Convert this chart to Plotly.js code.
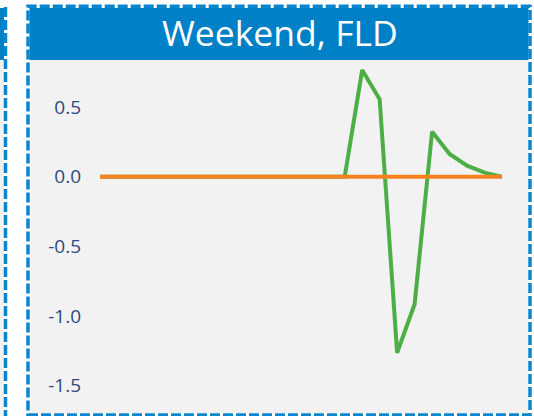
<!DOCTYPE html>
<html>
<head>
<meta charset="utf-8">
<script src="https://cdn.plot.ly/plotly-3.0.1.min.js"></script>
<style>html,body{margin:0;padding:0;background:#fff;}#chart{width:534px;height:416px;}</style>
</head>
<body>
<div id="chart"></div>
<script>
// ---- data ----
const hours = [0,1,2,3,4,5,6,7,8,9,10,11,12,13,14,15,16,17,18,19,20,21,22,23];
const greenSeries = [0,0,0,0,0,0,0,0,0,0,0,0,0,0,0,0.765,0.555,-1.263,-0.915,0.323,0.163,0.079,0.029,0];
const orangeSeries = [0,0,0,0,0,0,0,0,0,0,0,0,0,0,0,0,0,0,0,0,0,0,0,0];
const tickValues = [0.5, 0.0, -0.5, -1.0, -1.5];
const tickLabels = ['0.5', '0.0', '-0.5', '-1.0', '-1.5'];
const panelTitle = 'Weekend, FLD';

// ---- layout geometry (pixels) ----
const W = 534, H = 416;
const L = 100, R = 502, T = 60, B = 413;
const px = v => (v - L) / (R - L);
const py = v => (B - v) / (B - T);

const blue = '#0080C6';
const borderBlue = '#0A86CF';
const gray = '#F2F2F2';

const shapes = [
  // neighbour panel (left edge)
  {type:'rect', xref:'paper', yref:'paper', x0:px(-10), x1:px(4), y0:py(60), y1:py(8), fillcolor:blue, line:{width:0}, layer:'below'},
  {type:'rect', xref:'paper', yref:'paper', x0:px(-10), x1:px(4), y0:py(420), y1:py(60), fillcolor:gray, line:{width:0}, layer:'below'},
  {type:'line', xref:'paper', yref:'paper', x0:px(5.5), x1:px(5.5), y0:py(420), y1:py(5), line:{color:borderBlue, width:3.5, dash:'10px,3px'}, layer:'below'},
  // main panel
  {type:'rect', xref:'paper', yref:'paper', x0:px(29.5), x1:px(528.5), y0:py(60), y1:py(8), fillcolor:blue, line:{width:0}, layer:'below'},
  {type:'rect', xref:'paper', yref:'paper', x0:px(30.5), x1:px(528), y0:py(413), y1:py(60), fillcolor:gray, line:{width:0}, layer:'below'},
  {type:'rect', xref:'paper', yref:'paper', x0:px(28), x1:px(530), y0:py(415), y1:py(6.3), fillcolor:'rgba(0,0,0,0)', line:{color:borderBlue, width:3.5, dash:'10px,3px'}, layer:'below'}
];

const traces = [
  {x: hours, y: greenSeries, type:'scatter', mode:'lines', line:{color:'#4CAF45', width:4}, hoverinfo:'skip'},
  {x: hours, y: orangeSeries, type:'scatter', mode:'lines', line:{color:'#F5821F', width:4}, hoverinfo:'skip'}
];

// y scale: 0 at 176.7 px, 0.5 per 69.7 px
const zeroPx = 176.7, unitPx = 139.4;

const layout = {
  width: W, height: H,
  margin: {l: L, r: W - R, t: T, b: H - B, pad: 0},
  paper_bgcolor: '#FFFFFF',
  plot_bgcolor: 'rgba(0,0,0,0)',
  showlegend: false,
  xaxis: {range:[0,23], visible:false, fixedrange:true},
  yaxis: {
    range: [(zeroPx - B) / unitPx, (zeroPx - T) / unitPx],
    tickvals: tickValues, ticktext: tickLabels,
    showgrid:false, zeroline:false, showline:false, ticks:'',
    ticklabelstandoff: 18,
    tickfont: {family:'Open Sans, sans-serif', size:19, color:'#2B4A7E'},
    fixedrange:true
  },
  shapes: shapes,
  annotations: [{
    text: panelTitle, xref:'paper', yref:'paper', x: px(279.5), y: py(32),
    xanchor:'center', yanchor:'middle', showarrow:false,
    font:{family:'Open Sans, sans-serif', size:35.5, color:'#FFFFFF'}
  }]
};

Plotly.newPlot('chart', traces, layout, {displayModeBar:false, staticPlot:true});
</script>
</body>
</html>
